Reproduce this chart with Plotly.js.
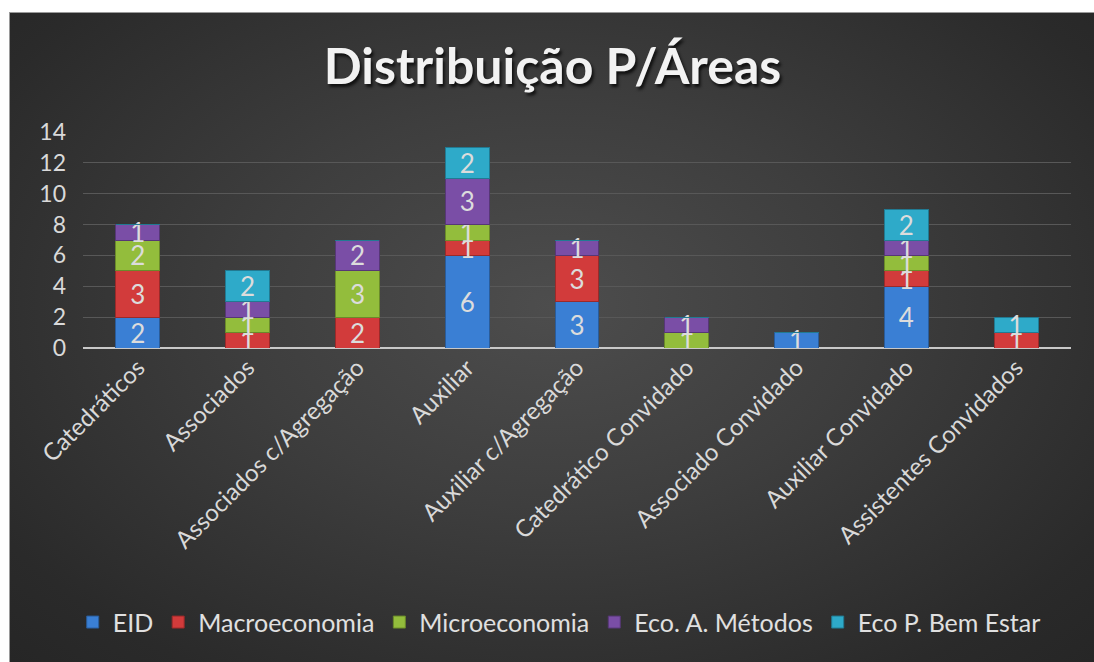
<!DOCTYPE html>
<html>
<head>
<meta charset="utf-8">
<script src="https://cdn.plot.ly/plotly-3.0.1.min.js"></script>
<style>
  html, body { margin: 0; padding: 0; background: #ffffff; width: 1094px; height: 662px; overflow: hidden; }
  #chart {
    position: absolute; left: 9px; top: 12px; width: 1085px; height: 650px;
    background: radial-gradient(ellipse at 50% 45%, #4d4d4d 0%, #3e3e3e 40%, #2a2a2a 85%, #262626 100%);
    border-left: 1px solid #9a9a9a; border-top: 1px solid #9a9a9a; box-sizing: border-box;
  }
</style>
</head>
<body>
<div id="chart"></div>
<script>
const categories = ["Catedráticos", "Associados", "Associados c/Agregação", "Auxiliar",
  "Auxiliar c/Agregação", "Catedrático Convidado", "Associado Convidado",
  "Auxiliar Convidado", "Assistentes Convidados"];
const eid           = [2, 0, 0, 6, 3, 0, 1, 4, 0];
const macroeconomia = [3, 1, 2, 1, 3, 0, 0, 1, 1];
const microeconomia = [2, 1, 3, 1, 0, 1, 0, 1, 0];
const ecoAMetodos   = [1, 1, 2, 3, 1, 1, 0, 1, 0];
const ecoPBemEstar  = [0, 2, 0, 2, 0, 0, 0, 2, 1];
const seriesNames = ["EID", "Macroeconomia", "Microeconomia", "Eco. A. Métodos", "Eco P. Bem Estar"];

const series = [eid, macroeconomia, microeconomia, ecoAMetodos, ecoPBemEstar];
const colors = ["#3a7fd4", "#d23b3b", "#93bd3c", "#7a4ea6", "#2eaac9"];
const lines  = ["#2a5c9a", "#9a2a2a", "#6a8a2a", "#563776", "#217a92"];
const FONT = "Lato, 'Open Sans', sans-serif";

const traces = series.map((vals, i) => ({
  type: "bar",
  name: seriesNames[i],
  x: categories,
  y: vals,
  text: vals.map(v => v > 0 ? String(v) : ""),
  textposition: "inside",
  insidetextanchor: "middle",
  constraintext: "none",
  textangle: 0,
  textfont: { family: FONT, size: 26, color: "#dcdcdc" },
  marker: { color: colors[i], line: { color: lines[i], width: 1 } },
  hoverinfo: "x+y+name"
}));

const layout = {
  width: 1085, height: 650,
  barmode: "stack",
  bargap: 0.6,
  paper_bgcolor: "rgba(0,0,0,0)",
  plot_bgcolor: "rgba(0,0,0,0)",
  margin: { l: 73, r: 24, t: 119, b: 315 },
  title: {
    text: "<b>Distribuição P/Áreas</b>",
    font: { family: FONT, size: 50, color: "#f2f2f2", shadow: "2px 3px 3px #111111" },
    x: 0.5, xanchor: "center", y: 0.917, yanchor: "middle"
  },
  xaxis: {
    type: "category",
    tickangle: -45,
    tickfont: { family: FONT, size: 24, color: "#d9d9d9" },
    showgrid: false,
    showline: false,
    ticks: "",
    fixedrange: true
  },
  yaxis: {
    range: [0, 14],
    dtick: 2,
    tickfont: { family: FONT, size: 23, color: "#d9d9d9" },
    ticklabelstandoff: 16,
    gridcolor: "#585858",
    gridwidth: 1,
    zeroline: true,
    zerolinecolor: "#c8c8c8",
    zerolinewidth: 2.5,
    ticks: "",
    fixedrange: true
  },
  legend: {
    orientation: "h",
    x: 0.482, xanchor: "center",
    y: -1.27, yanchor: "middle",
    font: { family: FONT, size: 25, color: "#e0e0e0" },
    traceorder: "normal",
    itemwidth: 30
  },
  showlegend: true
};

Plotly.newPlot("chart", traces, layout, { displayModeBar: false, staticPlot: true });
</script>
</body>
</html>
